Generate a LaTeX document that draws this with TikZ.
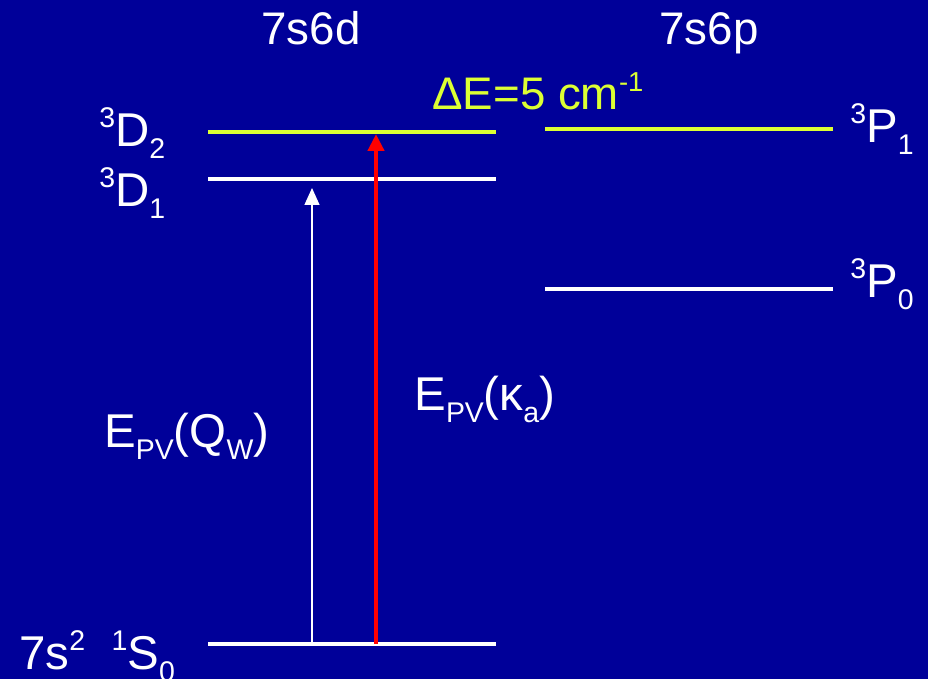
\documentclass[tikz,border=0pt]{standalone}
\usepackage{fontspec}
\setmainfont{Liberation Sans}
\usetikzlibrary{arrows.meta,positioning}
\definecolor{Navy}{HTML}{000099}
\definecolor{Lime}{HTML}{DDFF33}
\definecolor{Red}{HTML}{FF0000}
\newcommand{\hi}[1]{\raisebox{0.4em}{\scalebox{0.6}{#1}}}
\newcommand{\lo}[1]{\raisebox{-0.27em}{\scalebox{0.6}{#1}}}

\begin{document}
\begin{tikzpicture}[
  x=0.02cm,y=-0.02cm,
  level/.style={line width=2.8pt,draw=white},
  hot/.style={line width=2.8pt,draw=Lime},
  term/.style={inner sep=0pt,text=white,font=\fontsize{27}{30}\selectfont},
  config/.style={inner sep=0pt,text=white,font=\fontsize{26}{30}\selectfont},
  gap/.style={inner sep=0pt,text=Lime,font=\fontsize{26}{30}\selectfont},
  weak/.style={-{Triangle[length=0.34cm,width=0.3cm]},line width=0.8pt,draw=white},
  strong/.style={-{Triangle[length=0.34cm,width=0.32cm]},line width=2.8pt,draw=Red}
]
\fill[Navy] (0,0) rectangle (928,679);
\useasboundingbox (0,0) rectangle (928,679);

% level end points
\coordinate (d2w) at (208,132); \coordinate (d2e) at (496,132);
\coordinate (d1w) at (208,179); \coordinate (d1e) at (496,179);
\coordinate (s0w) at (208,644); \coordinate (s0e) at (496,644);
\coordinate (p1w) at (545,129); \coordinate (p1e) at (833,129);
\coordinate (p0w) at (545,289); \coordinate (p0e) at (833,289);

\draw[hot] (d2w) -- (d2e);
\draw[level] (d1w) -- (d1e);
\draw[level] (s0w) -- (s0e);
\draw[hot] (p1w) -- (p1e);
\draw[level] (p0w) -- (p0e);

% arrow ends
\coordinate (qwlow) at (312,644); \coordinate (qwtop) at (312,188);
\coordinate (kalow) at (376,644); \coordinate (katop) at (376,134);
\draw[weak] (qwlow) -- (qwtop);
\draw[strong] (kalow) -- (katop);

% configurations
\node[config,anchor=base] (cfgd) at (311,45) {7s6d};
\node[config,anchor=base] (cfgp) at (709,45) {7s6p};
\node[gap,anchor=base west] (split) at (432,110) {ΔE=5 cm\hi{-1}};

% terms
\node[term,anchor=base west] (d2lab) at (99,146) {\hi{3}D\lo{2}};
\node[term,anchor=base west] (d1lab) at (99,206) {\hi{3}D\lo{1}};
\node[term,anchor=base west] (p1lab) at (850,142) {\hi{3}P\lo{1}};
\node[term,anchor=base west] (p0lab) at (850,297) {\hi{3}P\lo{0}};
\node[term,anchor=base west] (s0lab) at (19,669) {7s\hi{2}\ \ \hi{1}S\lo{0}};

% matrix elements
\node[term,anchor=base west] (qwlab) at (104,447) {E\lo{PV}(Q\lo{W})};
\node[term,anchor=base west] (kalab) at (414,410) {E\lo{PV}(κ\lo{a})};
\end{tikzpicture}
\end{document}
